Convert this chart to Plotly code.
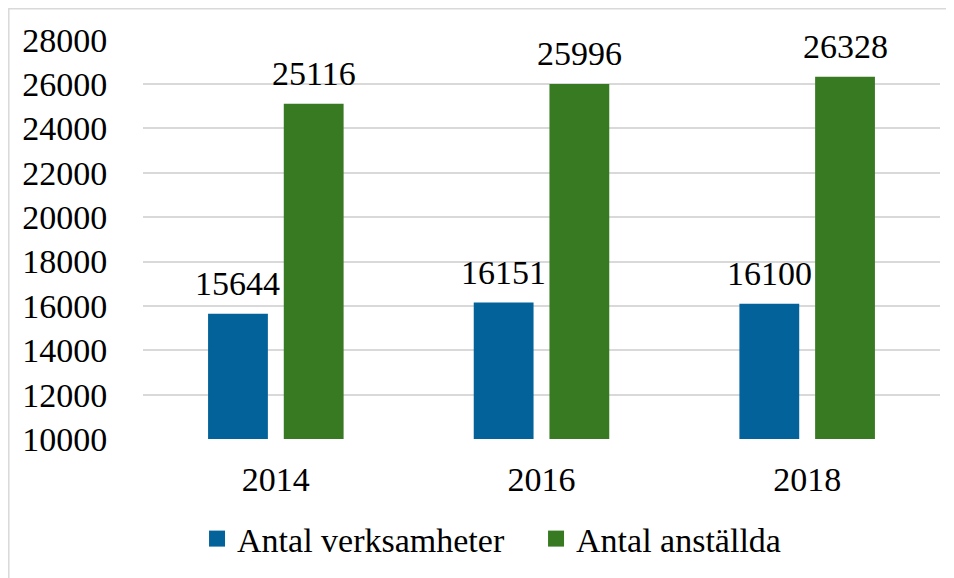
import plotly.graph_objects as go

years = ["2014", "2016", "2018"]
verksamheter = [15644, 16151, 16100]
anstallda = [25116, 25996, 26328]
y_ticks = [10000, 12000, 14000, 16000, 18000, 20000, 22000, 24000, 26000, 28000]
y_ticktext = [str(v) for v in y_ticks]

FONT = "Liberation Serif"
FS = 34
BLUE = "#03629A"
GREEN = "#387A21"

fig = go.Figure()
fig.add_trace(go.Bar(x=years, y=verksamheter, name="Antal verksamheter",
                     marker=dict(color=BLUE, line=dict(width=0)), showlegend=False))
fig.add_trace(go.Bar(x=years, y=anstallda, name="Antal anställda",
                     marker=dict(color=GREEN, line=dict(width=0)), showlegend=False))
for name, col in [("Antal verksamheter", BLUE), ("Antal anställda", GREEN)]:
    fig.add_trace(go.Scatter(x=[None], y=[None], mode="markers", name=name,
                             marker=dict(symbol="square", size=18, color=col),
                             showlegend=True))

# value labels: category index positions, offset to each bar of the group
for ys, shift in [(verksamheter, -38), (anstallda, 38)]:
    for i, y in enumerate(ys):
        fig.add_annotation(x=i, y=y, text=str(y), showarrow=False,
                           xref="x", yref="y", yanchor="bottom",
                           xshift=shift, yshift=10,
                           font=dict(family=FONT, size=FS, color="#000000"))

fig.add_shape(type="rect", xref="paper", yref="paper",
              x0=-0.1684, x1=1.2, y0=-0.6, y1=1.0756,
              line=dict(color="#d9d9d9", width=1.5), layer="below")

fig.update_layout(
    width=946, height=570,
    margin=dict(l=135, r=14, t=31, b=139, autoexpand=False),
    paper_bgcolor="white", plot_bgcolor="white",
    barmode="group", bargap=0.43, bargroupgap=0.21,
    font=dict(family=FONT, size=FS, color="#000000"),
    showlegend=True,
    legend=dict(orientation="h", x=0.0678, xanchor="left",
                y=-0.25, yanchor="middle",
                font=dict(family=FONT, size=FS), itemwidth=30,
                entrywidth=294,
                traceorder="normal", bgcolor="rgba(0,0,0,0)"),
)
fig.update_xaxes(type="category", range=[-0.5, 2.5], autorange=False,
                 showgrid=False, showline=False,
                 ticks="outside", ticklen=10, tickcolor="rgba(0,0,0,0)",
                 automargin=False)
fig.update_yaxes(range=[10000, 28030], autorange=False,
                 tickvals=y_ticks, ticktext=y_ticktext,
                 showgrid=True, gridcolor="#d9d9d9", gridwidth=1.5,
                 zeroline=False, showline=False,
                 ticks="outside", ticklen=28, tickcolor="rgba(0,0,0,0)",
                 automargin=False)

fig.write_html("out.html")
